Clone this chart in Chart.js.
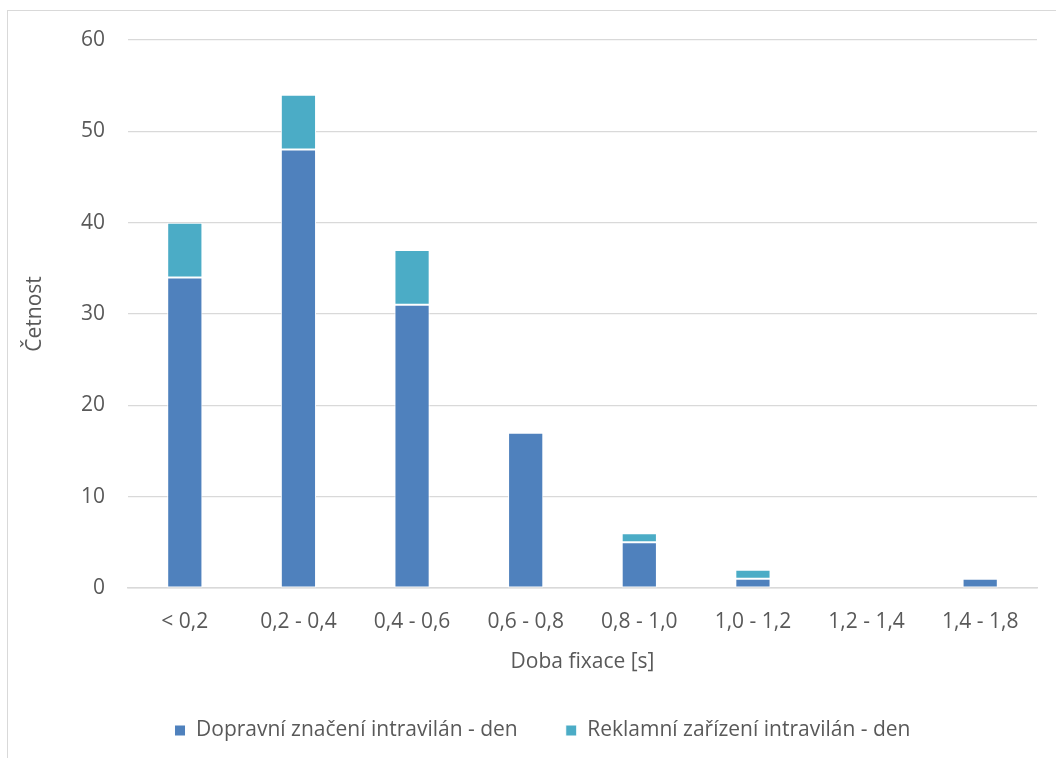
<!DOCTYPE html>
<html>
<head>
  <title>Doba fixace</title>
  <script src="https://cdn.jsdelivr.net/npm/chart.js"></script>
  <style>
    body { margin: 0; background: #fff; overflow: hidden; }
    .frame { position: absolute; left: 7px; top: 10px; width: 1200px; height: 900px; border: 1px solid #d9d9d9; }
    .wrap { position: absolute; left: 0; top: 0; width: 1056px; height: 758px; }
  </style>
</head>
<body>
<div class="frame"></div>
<div class="wrap"><canvas id="graf"></canvas></div>

<script>
const kategorie = ['< 0,2', '0,2 - 0,4', '0,4 - 0,6', '0,6 - 0,8', '0,8 - 1,0', '1,0 - 1,2', '1,2 - 1,4', '1,4 - 1,8'];
const dopravni = [34, 48, 31, 17, 5, 1, 0, 1];
const reklamni = [6, 6, 6, 0, 1, 1, 0, 0];

const font = "'Open Sans', 'Noto Sans', sans-serif";
const seda = '#595959';

new Chart(document.getElementById('graf').getContext('2d'), {
  type: 'bar',
  data: {
    labels: kategorie,
    datasets: [
      { label: 'Dopravní značení intravilán - den', data: dopravni, backgroundColor: '#4F81BD', borderColor: '#fff', borderWidth: 1, borderSkipped: false },
      { label: 'Reklamní zařízení intravilán - den', data: reklamni, backgroundColor: '#4BACC6', borderColor: '#fff', borderWidth: 1, borderSkipped: false }
    ]
  },
  options: {
    responsive: true,
    maintainAspectRatio: false,
    animation: false,
    layout: { padding: { left: 48, right: 19, top: 40, bottom: 7 } },
    datasets: { bar: { categoryPercentage: 1, barPercentage: 0.31 } },
    plugins: {
      legend: {
        position: 'bottom',
        labels: { font: { family: font, size: 21 }, color: seda, boxWidth: 11, boxHeight: 11, padding: 48 }
      },
      tooltip: { enabled: false }
    },
    scales: {
      x: {
        stacked: true,
        grid: { display: false },
        border: { color: '#d9d9d9', width: 1.5 },
        ticks: { font: { family: font, size: 21 }, color: seda, padding: 13 },
        title: { display: true, text: 'Doba fixace [s]', font: { family: font, size: 21 }, color: seda, padding: { top: 0, bottom: -3 } },
        afterFit: s => { s.height = 84; }
      },
      y: {
        stacked: true,
        min: 0, max: 60,
        ticks: { stepSize: 10, font: { family: font, size: 21 }, color: seda, padding: 23 },
        grid: { color: '#d9d9d9', lineWidth: 1.2, drawTicks: false },
        border: { display: false },
        title: { display: true, text: 'Četnost', font: { family: font, size: 21 }, color: seda, padding: { top: -26, bottom: 0 } },
        afterFit: s => { s.width = 80; }
      }
    }
  }
});
</script>
</body>
</html>
